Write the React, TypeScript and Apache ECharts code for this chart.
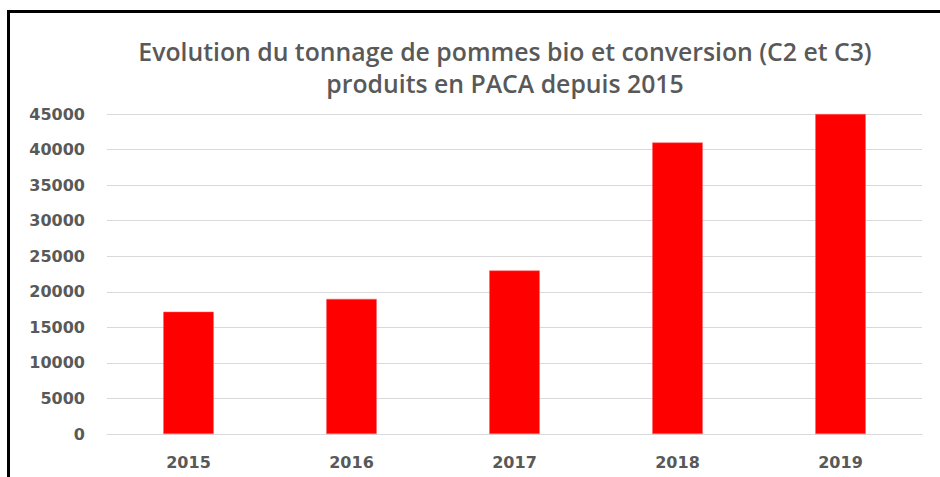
import React, { useEffect, useRef } from "react";
import * as echarts from "echarts";

const categories = ["2015", "2016", "2017", "2018", "2019"];
const tonnage = [17200, 19000, 23000, 41000, 45000];
const titleLines = [
  "Evolution du tonnage de pommes bio et conversion (C2 et C3)",
  "produits en PACA depuis 2015",
];

export default function App() {
  const ref = useRef<HTMLDivElement>(null);
  useEffect(() => {
    if (!ref.current) return;
    const chart = echarts.init(ref.current, null, { renderer: "svg" });
    chart.setOption({
      animation: false,
      backgroundColor: "#ffffff",
      title: {
        text: titleLines.join("\n"),
        left: 500,
        top: 30,
        textAlign: "center",
        textStyle: {
          fontFamily: "Open Sans",
          fontWeight: 600,
          fontSize: 24.8,
          lineHeight: 32,
          color: "#595959",
        },
      },
      grid: { left: 107, right: 18, top: 114, bottom: 43, containLabel: false },
      xAxis: {
        type: "category",
        data: categories,
        axisLine: { lineStyle: { color: "#d9d9d9", width: 1 } },
        axisTick: { show: false },
        axisLabel: {
          margin: 20,
          fontFamily: "DejaVu Sans",
          fontWeight: "bold",
          fontSize: 16,
          color: "#595959",
        },
      },
      yAxis: {
        type: "value",
        min: 0,
        max: 45000,
        interval: 5000,
        axisLine: { show: false },
        axisTick: { show: false },
        splitLine: { lineStyle: { color: "#d9d9d9", width: 1 } },
        axisLabel: {
          margin: 22,
          fontFamily: "DejaVu Sans",
          fontWeight: "bold",
          fontSize: 16,
          color: "#595959",
          formatter: (v: number) => String(v),
        },
      },
      series: [
        {
          type: "bar",
          data: tonnage,
          barWidth: "31%",
          itemStyle: { color: "#ff0000", borderColor: "#ff6666", borderWidth: 0.5 },
        },
      ],
      graphic: [
        {
          type: "line",
          shape: { x1: 7, y1: 11.5, x2: 940, y2: 11.5 },
          style: { stroke: "#000000", lineWidth: 3 },
        },
        {
          type: "line",
          shape: { x1: 8.5, y1: 10, x2: 8.5, y2: 477 },
          style: { stroke: "#000000", lineWidth: 3 },
        },
      ],
    });
    return () => chart.dispose();
  }, []);
  return (
    <div
      ref={ref}
      style={{ position: "fixed", left: 0, top: 0, width: 940, height: 477 }}
    />
  );
}
